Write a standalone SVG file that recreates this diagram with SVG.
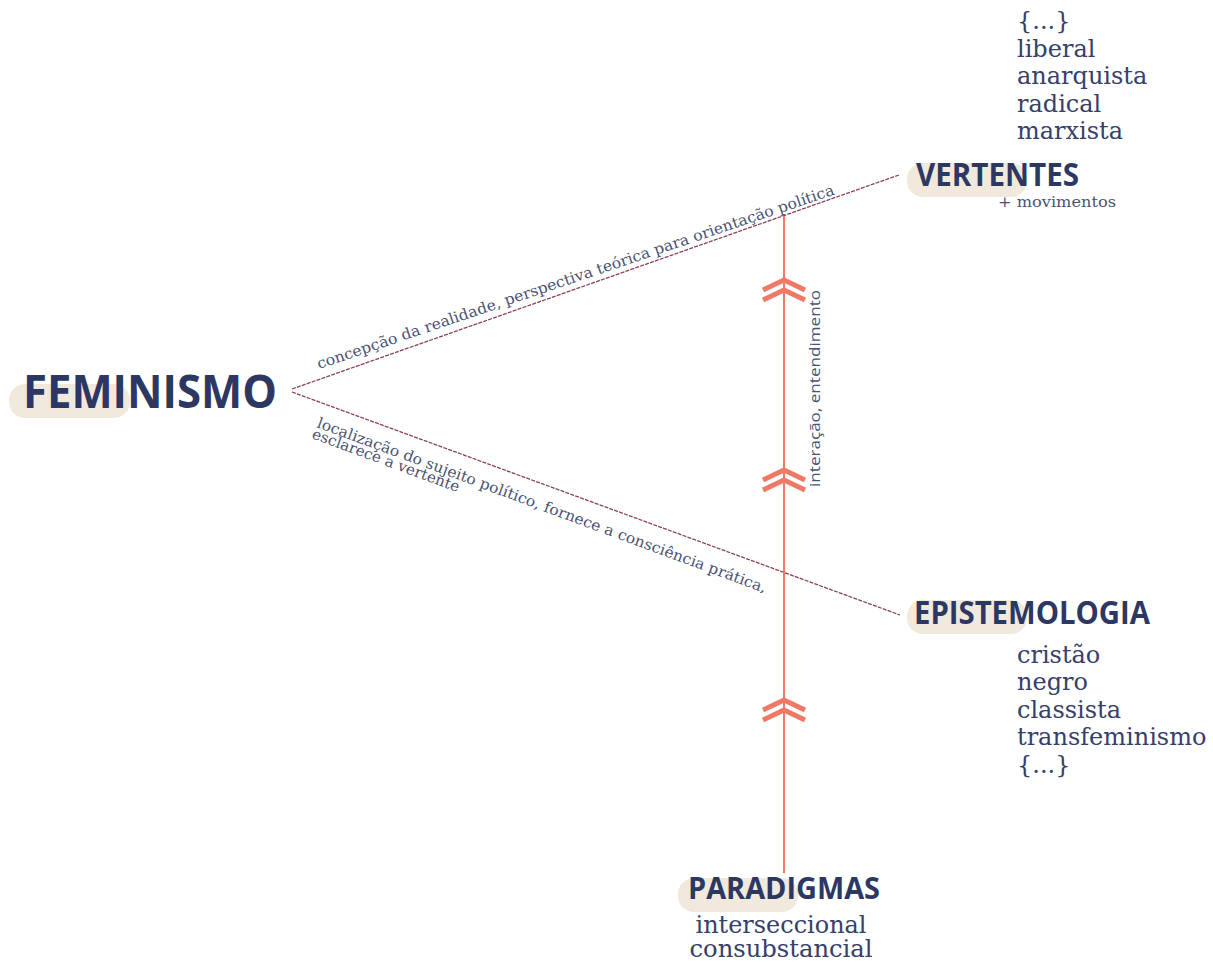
<svg xmlns="http://www.w3.org/2000/svg" width="1213" height="963" viewBox="0 0 1213 963">
<defs>
<style>
.hl{fill:#f0e9dc}
.head{font-family:"Open Sans","Noto Sans","DejaVu Sans",sans-serif;font-weight:700;fill:#2c3862}
.item{font-family:"DejaVu Serif","Liberation Serif",serif;font-size:24px;fill:#36406a}
.lab{font-family:"DejaVu Serif","Liberation Serif",serif;font-size:15px;fill:#4a5274}
.labs{font-family:"Open Sans","Noto Sans",sans-serif;font-size:15px;fill:#4a5274}
.diag{stroke:#8c4258;stroke-width:1.3;fill:none;stroke-dasharray:4 1.2}
.vert{stroke:#ee7a66;stroke-width:2;fill:none}
.chev{stroke:#ee7a66;stroke-width:5;fill:none;stroke-linejoin:miter}
</style>
<g id="chevpair">
<polyline class="chev" points="-21,10 0,0 21,10"/>
<polyline class="chev" points="-21,20 0,10 21,20"/>
</g>
</defs>
<rect width="1213" height="963" fill="#ffffff"/>

<g id="connectors">
<line class="diag" x1="292" y1="389" x2="899" y2="175"/>
<line class="diag" x1="292" y1="392" x2="900" y2="615"/>
<line class="vert" x1="784" y1="216" x2="784" y2="873"/>
<use href="#chevpair" x="784" y="280"/>
<use href="#chevpair" x="784" y="470"/>
<use href="#chevpair" x="784" y="700"/>
<text class="lab" transform="translate(319,369) rotate(-18.7)" textLength="545" lengthAdjust="spacingAndGlyphs">concepção da realidade, perspectiva teórica para orientação política</text>
<text class="lab" transform="translate(316,427) rotate(20.3)" textLength="478" lengthAdjust="spacingAndGlyphs">localização do sujeito político, fornece a consciência prática,</text>
<text class="lab" transform="translate(311,438) rotate(20.3)" textLength="156" lengthAdjust="spacingAndGlyphs">esclarece a vertente</text>
<text class="labs" transform="translate(820,487) rotate(-90)" textLength="197" lengthAdjust="spacingAndGlyphs">interação, entendimento</text>
</g>

<g id="feminismo">
<rect class="hl" x="9" y="384" width="121" height="34" rx="16"/>
<text class="head" x="23" y="408" font-size="46" textLength="254" lengthAdjust="spacingAndGlyphs">FEMINISMO</text>
</g>

<g id="vertentes">
<rect class="hl" x="907" y="163" width="120" height="34" rx="16"/>
<text class="head" x="916" y="186" font-size="33" textLength="163" lengthAdjust="spacingAndGlyphs">VERTENTES</text>
<text class="lab" x="998" y="207" font-size="15" textLength="118" lengthAdjust="spacingAndGlyphs">+ movimentos</text>
<text class="item" x="1017" y="29" font-size="17">{...}</text>
<text class="item" x="1017" y="57">liberal</text>
<text class="item" x="1017" y="84">anarquista</text>
<text class="item" x="1017" y="112">radical</text>
<text class="item" x="1017" y="139">marxista</text>
</g>

<g id="epistemologia">
<rect class="hl" x="907" y="600" width="120" height="34" rx="16"/>
<text class="head" x="914" y="624" font-size="32" textLength="236" lengthAdjust="spacingAndGlyphs">EPISTEMOLOGIA</text>
<text class="item" x="1017" y="663">cristão</text>
<text class="item" x="1017" y="690">negro</text>
<text class="item" x="1017" y="718">classista</text>
<text class="item" x="1017" y="745">transfeminismo</text>
<text class="item" x="1017" y="773" font-size="21">{...}</text>
</g>

<g id="paradigmas">
<rect class="hl" x="678" y="878" width="120" height="34" rx="16"/>
<text class="head" x="688" y="899" font-size="30" textLength="192" lengthAdjust="spacingAndGlyphs">PARADIGMAS</text>
<text class="item" x="781" y="933" text-anchor="middle" textLength="171" lengthAdjust="spacingAndGlyphs" font-size="23">interseccional</text>
<text class="item" x="781" y="957" text-anchor="middle" textLength="183" lengthAdjust="spacingAndGlyphs" font-size="23">consubstancial</text>
</g>
</svg>
